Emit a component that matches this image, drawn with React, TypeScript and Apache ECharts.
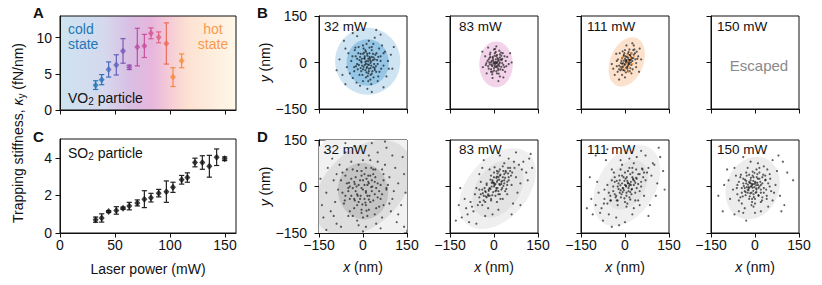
import React, { useEffect, useRef } from 'react';
import * as echarts from 'echarts';

// ---------- Data ----------
const powerTicks = [0, 50, 100, 150];
const stiffTicksA = [0, 5, 10];
const stiffTicksC = [0, 2, 4];
const posTicks = [-150, 0, 150];

// Panel A (VO2 particle)
const powerA = [32.4, 37.9, 44.2, 51.2, 57.3, 63, 70.3, 76.7, 82.7, 89.7, 96.7, 102.7, 110.6];
const stiffA = [3.44, 4.2, 5.6, 6.24, 8.17, 5.9, 8.7, 8.86, 10.6, 10.05, 9.2, 4.55, 6.8];
const errA = [0.6, 0.7, 1.05, 1.4, 1.7, 0.3, 2.6, 1.6, 0.75, 0.75, 2.85, 1.3, 0.95];
const colorsA = ['#1f78b8', '#2a73bb', '#4a6cbd', '#5f63bb', '#7a5ab8', '#9a52b3', '#b94fab', '#c9519f', '#d65893', '#e06584', '#ea6e5c', '#f38a43', '#f7913a'];

// Panel C (SO2 particle)
const powerC = [32.4, 37.9, 44.2, 51.2, 57.3, 63, 70.3, 76.7, 82.7, 89.7, 96.7, 102.7, 110.6, 115.8, 122.7, 129.4, 135.8, 142.4, 149.7];
const stiffC = [0.71, 0.8, 1.14, 1.2, 1.32, 1.43, 1.6, 1.8, 1.88, 2.12, 2.2, 2.43, 2.83, 2.95, 3.75, 3.75, 3.55, 4.03, 3.95];
const errC = [0.14, 0.22, 0.05, 0.2, 0.06, 0.2, 0.16, 0.45, 0.23, 0.2, 0.57, 0.27, 0.23, 0.25, 0.23, 0.36, 0.58, 0.44, 0.1];

const panelPowers = ['32 mW', '83 mW', '111 mW', '150 mW'];

// Position traces (nm), hand-read approximations
const tracesB1 = [
  [12, 5], [20, -8], [5, 12], [28, 3], [-3, -10], [15, 22], [35, -15], [-12, 8], [22, 30], [8, -25],
  [40, 10], [-20, -5], [18, -35], [30, 40], [-8, 28], [50, -5], [2, 45], [-25, 20], [45, -30], [10, -48],
  [-30, -28], [60, 20], [25, -55], [-15, 50], [55, 45], [-40, 5], [70, -10], [0, -60], [35, 60], [-35, -50],
  [75, 35], [-50, 30], [20, 70], [50, -60], [-55, -15], [85, 5], [-10, -75], [40, 80], [-60, 45], [80, -45],
  [15, -85], [-70, -40], [95, 25], [-20, 85], [60, 90], [-80, 10], [30, -95], [100, -20], [-65, 70], [70, -80],
  [5, 15], [25, -2], [-5, 0], [18, 12], [32, -28], [-18, -22], [10, 35], [42, 25], [-2, -40], [26, -18],
  [8, 2], [14, -14], [38, -5], [-10, 18], [22, 48], [0, -22], [48, 8], [-28, 40], [62, -20], [12, 60],
  [-45, -35], [65, 55], [28, -70], [-22, -65], [88, -20], [-60, -70], [105, 50], [-90, -25], [45, 105], [-35, 95],
  [16, -6], [24, 14], [6, -8], [30, 18], [-6, 4], [20, -20], [34, 8], [0, 28], [12, -32], [40, -18],
  [18, 4], [10, -4], [24, 8], [6, 20], [-4, 12], [28, -10], [14, 28], [20, -28], [36, 16], [-14, -8],
  [2, -14], [30, -36], [44, -12], [-20, 12], [8, 40], [-6, -28], [34, 28], [16, -44], [52, 18], [-24, -12],
  [22, 18], [12, -18], [-8, -18], [40, -24], [26, -40], [4, 32], [-16, 30], [46, 30], [30, 50], [-30, -15],
  [56, -30], [-12, -40], [0, 55], [60, 5], [-36, 20], [18, -60], [36, -48], [-26, 48], [52, -45], [70, 30]
];
const tracesB2 = [
  [5, -5], [12, 3], [-3, 8], [18, -12], [0, -18], [-10, 0], [22, 10], [8, 20], [-6, -12], [15, -25],
  [28, -2], [-15, 15], [3, 30], [-18, -20], [25, 22], [10, -35], [35, -15], [-22, 5], [-5, -30], [30, 30],
  [40, 5], [-28, -8], [18, 38], [-12, 32], [38, -30], [0, 42], [-30, 20], [20, -45], [45, 18], [-25, -35],
  [6, 10], [14, -8], [-2, -4], [9, -15], [-8, 5], [20, 0], [2, 22], [-14, -6], [25, -14], [12, 14],
  [50, -5], [-38, -15], [8, 52], [-5, -50], [55, 30], [-40, 35], [32, -48], [60, 0], [-20, 48], [15, -60],
  [4, 2], [10, -2], [-4, 14], [16, 6], [2, -10], [-10, -22], [26, 8], [8, -28], [-18, 10], [20, 26],
  [8, 0], [-2, 2], [14, 10], [4, -14], [-8, -8], [18, -4], [10, 24], [-12, 18], [22, -22], [0, -26],
  [28, 12], [-20, -12], [6, 34], [-6, -38], [32, -8], [-26, -2], [16, -36], [-14, 26], [36, 20], [24, 32],
  [2, -2], [10, -12], [-4, 18], [14, -20], [20, 16], [-16, 0], [30, -24], [-10, -30], [4, 44], [42, -12]
];
const tracesB3 = [
  [5, 0], [12, 10], [-2, -8], [15, -5], [0, 12], [-8, -15], [20, 18], [8, -20], [-12, 5], [25, 5],
  [10, 28], [-15, -25], [30, 25], [-5, 20], [18, -18], [-20, -10], [3, -32], [28, 40], [-25, -30], [35, 10],
  [15, 42], [-10, -40], [40, 35], [-28, 5], [22, -35], [-18, 30], [45, 20], [0, -48], [30, 55], [-35, -40],
  [8, 4], [2, -3], [14, 8], [-4, 6], [10, -10], [20, 0], [6, 18], [-10, -4], [16, 24], [-6, -24],
  [50, 45], [-40, -20], [38, -15], [-30, 28], [55, 10], [-20, -55], [25, 62], [-45, -5], [48, -30], [5, 55],
  [4, 8], [12, -2], [-6, -2], [18, 8], [2, 20], [-14, -14], [24, 14], [10, -28], [-2, 30], [22, 30],
  [6, 6], [14, 2], [0, -6], [10, 16], [-6, -12], [18, 24], [-14, -2], [22, -8], [4, -16], [28, 14],
  [-10, 14], [12, 34], [-20, -22], [34, 30], [-2, -26], [26, -22], [-24, 10], [38, -2], [16, -28], [-8, 36],
  [2, 4], [12, -6], [8, -14], [-12, -20], [20, 10], [-4, 24], [32, 42], [-28, -12], [42, 12], [0, 40]
];
const tracesB3hot = [
  [10, 5], [-5, -10], [18, 15], [0, -20], [25, -5], [-12, 10], [8, 25], [15, -15], [-18, -18], [30, 20],
  [4, -4], [20, 30], [-8, 18], [12, -30]
];
const tracesD1 = [
  [0, -10], [15, 5], [-20, -25], [30, -15], [-10, 20], [25, 35], [-35, -5], [5, -40], [40, 15], [-25, 30],
  [10, -60], [-45, -40], [50, -35], [-5, 50], [35, 55], [-55, 10], [60, 5], [20, -75], [-30, -70], [-60, -30],
  [70, 40], [-15, 70], [55, -65], [-70, 45], [80, -10], [0, 85], [-85, -10], [40, -90], [-50, -95], [90, 30],
  [-40, 80], [75, 70], [-95, -50], [100, -40], [20, 100], [-80, 70], [65, -100], [-100, 20], [110, 60], [-20, -110],
  [-110, -80], [120, 10], [50, 110], [-60, 110], [95, -80], [-125, -20], [130, -60], [-90, -120], [10, -130], [80, 125],
  [-120, 60], [140, 40], [-30, 130], [115, -115], [-140, -60], [60, -135], [-75, -130], [135, 95], [-130, 110], [30, 140],
  [5, 5], [-8, -30], [22, -30], [-28, 8], [12, 25], [-15, -50], [35, -45], [-40, 25], [45, -5], [-5, -75],
  [28, 60], [-50, -15], [65, -25], [-20, 50], [15, -95], [-65, -55], [85, 5], [-35, -95], [50, 80], [-75, 20],
  [105, -15], [-100, -95], [70, -60], [-55, 55], [25, 85], [-90, 40], [90, -55], [-15, -125], [45, -120], [120, -90],
  [-135, -100], [145, -20], [-105, 90], [100, 100], [-145, 25], [0, -145], [-60, 140], [140, -130], [75, 145], [-125, -140],
  [10, -20], [-22, 0], [18, 15], [-5, 35], [32, 0], [-30, -40], [8, -52], [42, 30], [-45, 0], [20, -42],
  [-5, -5], [10, -15], [-15, 5], [20, 10], [0, 20], [-25, -15], [15, -30], [-10, -40], [30, 20], [-30, 15],
  [40, -25], [5, 40], [-40, -30], [25, -50], [-20, -60], [50, 10], [-50, -5], [35, 40], [-5, -85], [60, -40],
  [-60, 35], [10, 60], [-35, 55], [70, 20], [-70, -20], [45, -70], [-45, -80], [80, -5], [0, -100], [65, 55],
  [-18, -30], [28, -2], [-2, -58], [18, 35], [-48, 12], [55, -15], [-28, -45], [42, 55], [-62, -45], [12, -78]
];
const tracesD2 = [
  [0, 0], [10, 15], [-12, -8], [20, 5], [-5, 20], [15, -15], [-20, -25], [30, 30], [5, -30], [-25, 5],
  [35, 10], [-10, 35], [25, -10], [-35, -30], [40, 45], [0, 45], [-40, -10], [50, 20], [20, 55], [-30, -50],
  [55, 50], [-50, -35], [10, -50], [-15, 55], [60, 5], [-55, -60], [45, -25], [-20, -70], [70, 60], [35, 75],
  [-65, -25], [75, 30], [-45, 15], [15, -75], [-70, -80], [85, 70], [-80, -50], [50, 90], [-30, -95], [90, 10],
  [-90, -90], [100, 80], [-100, -40], [65, -55], [-40, 60], [110, 45], [-110, -100], [20, 100], [-60, -120], [120, 90],
  [5, 8], [-8, 12], [18, 22], [-18, -14], [12, -5], [28, 18], [-28, -18], [8, 28], [-3, -18], [38, 28],
  [22, 38], [-38, -22], [45, 5], [-10, -45], [32, 50], [-48, -50], [58, 35], [2, 62], [-25, -35], [42, -8],
  [-60, -5], [68, 80], [-75, -65], [80, -20], [-5, -90], [95, 55], [-95, -70], [30, -40], [-50, 40], [115, 20],
  [-120, -60], [75, 110], [-85, -115], [125, 105], [-35, 85], [90, -60], [-115, -5], [60, -90], [-130, -110], [130, 60],
  [15, 30], [25, 8], [-15, -30], [8, -12], [35, 40], [-2, 10], [20, -25], [48, 60], [-32, -5], [12, 42],
  [2, 5], [12, 20], [-8, 0], [25, 15], [5, -15], [-15, -5], [20, 35], [-20, -30], [35, 20], [0, 30],
  [15, -25], [-30, -15], [40, 50], [-10, -40], [28, -5], [-35, -45], [50, 30], [10, 50], [-25, 10], [55, 60],
  [-45, -25], [30, 65], [-5, 15], [18, 8], [8, -5], [-12, 22], [45, 15], [-40, -60], [62, 45], [22, -40],
  [0, 12], [10, 32], [-18, -10], [32, 2], [-28, -32], [48, 42], [16, 48], [-6, -28], [38, -15], [-50, -10]
];
const tracesD3 = [
  [0, 5], [12, -5], [-10, 10], [20, 15], [-15, -12], [5, -20], [25, 30], [-25, 0], [30, 5], [-5, 30],
  [15, -35], [-30, -30], [40, 25], [-20, 35], [35, -20], [-40, -15], [10, 50], [50, 40], [-45, 20], [0, -50],
  [55, 0], [-50, -45], [25, 60], [-25, -60], [60, 55], [-60, 5], [45, -45], [-10, 70], [70, 20], [-70, -40],
  [30, -70], [-45, 55], [80, 60], [-80, -70], [65, -30], [15, 90], [-55, -90], [90, 35], [-90, -20], [40, 95],
  [-30, -100], [100, 70], [-100, -60], [85, -60], [-65, 85], [110, 10], [-110, -90], [55, 115], [-20, -125], [120, 95],
  [4, 0], [-6, -6], [16, 8], [-16, 4], [8, 18], [22, -10], [-12, -25], [32, 18], [-2, -38], [18, 40],
  [-35, 15], [45, 8], [-28, -45], [38, 55], [-55, -20], [62, 30], [5, -65], [-38, 45], [75, 45], [-72, -55],
  [50, -60], [-15, 85], [95, 75], [-85, -85], [25, -90], [-95, 15], [105, -30], [70, 100], [-75, -110], [-115, -40],
  [-100, 100], [130, 50], [0, -115], [115, 125], [-120, 30], [80, -95], [-45, -130], [135, -10], [-60, 120], [-130, -70],
  [10, 12], [-8, -18], [28, 22], [-22, -8], [2, 25], [18, -18], [-18, 20], [40, -5], [-32, -35], [26, 45],
  [3, 3], [10, 10], [-8, -5], [20, 5], [-2, 18], [12, -15], [-18, -20], [28, 25], [-22, 10], [5, -30],
  [35, 12], [-10, 35], [22, -25], [-35, -25], [45, 40], [0, 45], [-40, 0], [15, 60], [-25, -45], [55, 15],
  [-50, -30], [35, -45], [-15, 55], [65, 45], [-60, -55], [8, -55], [30, 75], [-35, 30], [50, -15], [-70, -10],
  [14, 2], [-4, -12], [6, 30], [-14, -35], [38, 28], [-28, 18], [24, -8], [-48, -45], [58, 58], [18, -42]
];
const tracesD4 = [
  [-10, 5], [0, 15], [-20, -5], [5, -10], [-15, 20], [10, 25], [-25, -20], [15, 0], [-5, -25], [-30, 10],
  [20, -20], [-8, 35], [25, 30], [-35, -15], [0, -40], [-40, 25], [30, -5], [-20, -40], [15, 45], [-45, -5],
  [35, 20], [-10, -50], [-30, 45], [40, -30], [-50, -35], [5, 55], [45, 10], [-55, 15], [20, -50], [-25, 60],
  [50, 40], [-60, -25], [-5, -65], [55, -15], [-45, -55], [30, 65], [-65, 35], [60, -45], [-35, -70], [10, 75],
  [70, 5], [-75, -10], [-15, 80], [45, -65], [-70, 60], [75, 50], [-55, -80], [20, -80], [-90, 20], [85, -30],
  [-12, 0], [-2, 8], [-18, 12], [-6, -14], [8, 12], [-22, -12], [2, -20], [-28, -2], [12, -5], [-14, 28],
  [18, 15], [-32, -28], [25, -35], [-38, 2], [-8, 48], [38, -10], [-48, 38], [28, 38], [-12, -60], [52, 25],
  [-62, -5], [42, 55], [-40, -85], [65, -20], [-85, -40], [0, -85], [95, 80], [130, 20], [-125, -30], [100, -60],
  [-95, 55], [60, 85], [-70, -90], [110, 45], [-110, -80], [-40, 95], [-30, -110], [90, -80], [-105, 5], [80, 100],
  [-8, -4], [4, 4], [-16, -22], [-24, 6], [6, 30], [-4, -34], [20, 5], [-34, 22], [12, -28], [-20, 38],
  [-8, 8], [-2, -2], [-15, 0], [2, 12], [-20, 15], [5, -18], [-25, -10], [10, 5], [-12, -20], [-30, 18],
  [15, 25], [-5, 30], [-35, -5], [20, -10], [-18, -32], [8, 40], [-40, 10], [25, 10], [-28, 35], [30, -20],
  [-10, -40], [-45, -20], [35, 35], [-50, 30], [0, -55], [40, -40], [-55, -45], [15, 60], [-60, 5], [50, 0],
  [-6, 18], [-22, -2], [4, -6], [-14, 10], [-32, -18], [12, -30], [-2, 44], [24, -45], [-42, -32], [36, 22]
];

// Density contour ellipses: [cx, cy, rx, ry, angleDeg] with fill colours
const ellB1 = [[16, 4, 111, 108, 0], [16, 0, 72, 75, 0]];
const ellB1Colors = ['#cfe4f2', '#95c6e5'];
const ellB2 = [[7, -6, 57, 74, 0]];
const ellB2Colors = ['#f3d3ea'];
const ellB3 = [[6, 2, 56, 84, -25]];
const ellB3Colors = ['#fce2cc'];
const ellD1 = [[0, -5, 260, 200, 40], [0, -5, 190, 125, 40], [0, -15, 85, 92, 20]];
const ellD1Colors = ['#f1f1f1', '#dedede', '#c4c4c4'];
const ellD2 = [[12, -7, 155, 100, 45], [14, -8, 105, 72, 50]];
const ellD2Colors = ['#efefef', '#e3e3e3'];
const ellD3 = [[6, 3, 145, 95, 55], [8, 5, 88, 60, 55]];
const ellD3Colors = ['#efefef', '#e4e4e4'];
const ellD4 = [[-8, -5, 105, 88, 60]];
const ellD4Colors = ['#ececec'];

// ---------- Layout ----------
const FONT = 'Liberation Sans';
const colLefts = [319, 450, 581, 711];
const PW = 88;
const PH = 93;

const minusFmt = (v: number) => (v < 0 ? '\u2212' + Math.abs(v) : String(v));

function ellipseSeries(idx: number, data: number[][], colors: string[]) {
  return {
    type: 'custom',
    xAxisIndex: idx,
    yAxisIndex: idx,
    clip: true,
    silent: true,
    z: 1,
    data,
    renderItem: (params: any, api: any) => {
      const cx = api.value(0), cy = api.value(1), rx = api.value(2), ry = api.value(3);
      const a = (api.value(4) * Math.PI) / 180;
      const pts: number[][] = [];
      const n = 90;
      for (let i = 0; i < n; i++) {
        const t = (i / n) * Math.PI * 2;
        const ex = rx * Math.cos(t), ey = ry * Math.sin(t);
        pts.push(api.coord([cx + ex * Math.cos(a) - ey * Math.sin(a), cy + ex * Math.sin(a) + ey * Math.cos(a)]));
      }
      return { type: 'polygon', shape: { points: pts }, style: { fill: colors[params.dataIndex], stroke: 'none' } };
    },
  };
}

function dotSeries(idx: number, data: number[][], color = 'rgba(10,10,10,0.8)') {
  return {
    type: 'scatter',
    xAxisIndex: idx,
    yAxisIndex: idx,
    silent: true,
    z: 3,
    symbol: 'circle',
    symbolSize: 2.2,
    itemStyle: { color },
    data,
  };
}

function errSeries(idx: number, xs: number[], ys: number[], es: number[], colors: string[]) {
  return {
    type: 'custom',
    xAxisIndex: idx,
    yAxisIndex: idx,
    silent: true,
    z: 3,
    data: xs.map((x, i) => [x, ys[i], es[i]]),
    renderItem: (params: any, api: any) => {
      const x = api.value(0), y = api.value(1), e = api.value(2);
      const top = api.coord([x, y + e]);
      const bot = api.coord([x, y - e]);
      const c = colors[params.dataIndex % colors.length];
      const hw = 2.6;
      const st = { stroke: c, lineWidth: 1.2 };
      return {
        type: 'group',
        children: [
          { type: 'line', shape: { x1: top[0], y1: top[1], x2: bot[0], y2: bot[1] }, style: st },
          { type: 'line', shape: { x1: top[0] - hw, y1: top[1], x2: top[0] + hw, y2: top[1] }, style: st },
          { type: 'line', shape: { x1: bot[0] - hw, y1: bot[1], x2: bot[0] + hw, y2: bot[1] }, style: st },
        ],
      };
    },
  };
}

function markerSeries(idx: number, xs: number[], ys: number[], colors: string[]) {
  return {
    type: 'scatter',
    xAxisIndex: idx,
    yAxisIndex: idx,
    silent: true,
    z: 4,
    symbol: 'diamond',
    symbolSize: [6, 7],
    data: xs.map((x, i) => ({ value: [x, ys[i]], itemStyle: { color: colors[i % colors.length] } })),
  };
}

const axisLineStyle = { show: true, onZero: false, lineStyle: { color: '#111', width: 1 } };
const tickStyle = (vals: number[]) => ({ show: true, length: 4.5, inside: false, lineStyle: { color: '#111' }, customValues: vals });
const labelStyle = (vals: number[] | null, show: boolean, margin: number) => ({
  show,
  fontSize: 14,
  fontFamily: FONT,
  color: '#111',
  margin,
  formatter: (v: number) => minusFmt(v),
  ...(vals ? { customValues: vals } : {}),
});

function buildOption() {
  const grids: any[] = [];
  const xAxes: any[] = [];
  const yAxes: any[] = [];
  const series: any[] = [];

  const gridBase = { show: true, borderColor: '#111', borderWidth: 1, containLabel: false };

  // 0: panel A
  grids.push({
    ...gridBase,
    left: 60, top: 16, width: 176, height: 94,
    backgroundColor: new echarts.graphic.LinearGradient(0, 0, 1, 0, [
      { offset: 0, color: '#cde3f0' },
      { offset: 0.25, color: '#d5d9ee' },
      { offset: 0.4, color: '#d9bee3' },
      { offset: 0.52, color: '#e7b6dd' },
      { offset: 0.63, color: '#f6cdd6' },
      { offset: 0.73, color: '#fde2d2' },
      { offset: 1, color: '#fff8e8' },
    ]),
  });
  // 1: panel C
  grids.push({ ...gridBase, left: 60, top: 139, width: 176, height: 94 });
  // 2-5: B, 6-9: D
  colLefts.forEach((l) => grids.push({ ...gridBase, left: l, top: 16, width: PW, height: PH }));
  colLefts.forEach((l) => grids.push({ ...gridBase, left: l, top: 140, width: PW, height: PH }));

  // Axes A, C
  xAxes.push({
    gridIndex: 0, type: 'value', min: 0, max: 160,
    axisLine: axisLineStyle, axisTick: tickStyle(powerTicks), axisLabel: { show: false }, splitLine: { show: false },
  });
  yAxes.push({
    gridIndex: 0, type: 'value', min: 0, max: 13,
    axisLine: axisLineStyle, axisTick: tickStyle(stiffTicksA), axisLabel: labelStyle(stiffTicksA, true, 8), splitLine: { show: false },
  });
  xAxes.push({
    gridIndex: 1, type: 'value', min: 0, max: 160,
    axisLine: axisLineStyle, axisTick: tickStyle(powerTicks), axisLabel: labelStyle(powerTicks, true, 5), splitLine: { show: false },
    name: 'Laser power (mW)', nameLocation: 'middle', nameGap: 29,
    nameTextStyle: { fontSize: 14, fontFamily: FONT, color: '#111' },
  });
  yAxes.push({
    gridIndex: 1, type: 'value', min: 0, max: 5,
    axisLine: axisLineStyle, axisTick: tickStyle(stiffTicksC), axisLabel: labelStyle(stiffTicksC, true, 8), splitLine: { show: false },
  });

  // Scatter axes
  for (let r = 0; r < 2; r++) {
    for (let c = 0; c < 4; c++) {
      const gi = 2 + r * 4 + c;
      const xa: any = {
        gridIndex: gi, type: 'value', min: -150, max: 150, interval: 150,
        axisLine: axisLineStyle, axisTick: tickStyle(posTicks), axisLabel: labelStyle(posTicks, r === 1, 5), splitLine: { show: false },
      };
      if (r === 1) {
        xa.name = '{i|x} (nm)';
        xa.nameLocation = 'middle';
        xa.nameGap = 27;
        xa.nameTextStyle = { fontSize: 14, fontFamily: FONT, color: '#111', rich: { i: { fontStyle: 'italic', fontSize: 14, fontFamily: FONT, color: '#111' } } };
      }
      xAxes.push(xa);
      const ya: any = {
        gridIndex: gi, type: 'value', min: -150, max: 150, interval: 150,
        axisLine: axisLineStyle, axisTick: tickStyle(posTicks), axisLabel: labelStyle(posTicks, c === 0, 12), splitLine: { show: false },
      };
      if (c === 0) {
        ya.name = '{i|y} (nm)';
        ya.nameLocation = 'middle';
        ya.nameGap = 33;
        ya.nameTextStyle = { fontSize: 14, fontFamily: FONT, color: '#111', rich: { i: { fontStyle: 'italic', fontSize: 14, fontFamily: FONT, color: '#111' } } };
      }
      yAxes.push(ya);
    }
  }

  // Series: A
  series.push(errSeries(0, powerA, stiffA, errA, colorsA));
  series.push(markerSeries(0, powerA, stiffA, colorsA));
  // C
  series.push(errSeries(1, powerC, stiffC, errC, ['#222']));
  series.push(markerSeries(1, powerC, stiffC, ['#111']));

  // B row
  series.push(ellipseSeries(2, ellB1, ellB1Colors));
  series.push(dotSeries(2, tracesB1));
  series.push(ellipseSeries(3, ellB2, ellB2Colors));
  series.push(dotSeries(3, tracesB2));
  series.push(ellipseSeries(4, ellB3, ellB3Colors));
  series.push(dotSeries(4, tracesB3));
  series.push(dotSeries(4, tracesB3hot, 'rgba(255,140,40,0.9)'));
  // D row
  series.push(ellipseSeries(6, ellD1, ellD1Colors));
  series.push(dotSeries(6, tracesD1));
  series.push(ellipseSeries(7, ellD2, ellD2Colors));
  series.push(dotSeries(7, tracesD2));
  series.push(ellipseSeries(8, ellD3, ellD3Colors));
  series.push(dotSeries(8, tracesD3));
  series.push(ellipseSeries(9, ellD4, ellD4Colors));
  series.push(dotSeries(9, tracesD4));

  const txt = (x: number, y: number, text: string, extra: any = {}) => ({
    type: 'text',
    x,
    y,
    z: 100,
    silent: true,
    style: { text, fontSize: 14, fontFamily: FONT, fill: '#111', align: 'left', verticalAlign: 'middle', ...extra },
  });
  const subRich = {
    sub: { fontSize: 10, fontFamily: FONT, lineHeight: 8, verticalAlign: 'bottom', fill: '#111' },
    i: { fontSize: 14, fontFamily: FONT, fontStyle: 'italic', lineHeight: 16, fill: '#111' },
  };

  const graphics: any[] = [
    txt(33, 12, 'A', { fontWeight: 'bold', fontSize: 15 }),
    txt(257, 12, 'B', { fontWeight: 'bold', fontSize: 15 }),
    txt(33, 136, 'C', { fontWeight: 'bold', fontSize: 15 }),
    txt(257, 136, 'D', { fontWeight: 'bold', fontSize: 15 }),
    {
      type: 'text', x: 18, y: 133, rotation: Math.PI / 2, z: 100, silent: true,
      style: {
        text: 'Trapping stiffness, {i|κ}{sub|y} (fN/nm)',
        fontSize: 14, fontFamily: FONT, fill: '#111', align: 'center', verticalAlign: 'middle', lineHeight: 16,
        rich: subRich,
      },
    },
    txt(68, 36, 'cold\nstate', { fill: '#1f77b4', lineHeight: 15 }),
    txt(213, 36, 'hot\nstate', { fill: '#f99a4c', lineHeight: 15, align: 'center' }),
    txt(68, 98, 'VO{sub|2} particle', { lineHeight: 16, rich: subRich }),
    txt(68, 153, 'SO{sub|2} particle', { lineHeight: 16, rich: subRich }),
    txt(759, 65, 'Escaped', { fill: '#8a8a8a', fontSize: 15, align: 'center' }),
  ];
  const labOff = [5, 9, 6, 6];
  colLefts.forEach((l, i) => {
    graphics.push(txt(l + labOff[i], 26, panelPowers[i], { fontSize: 13.5 }));
    graphics.push(txt(l + labOff[i], 149, panelPowers[i], { fontSize: 13.5 }));
  });

  return {
    animation: false,
    backgroundColor: '#ffffff',
    textStyle: { fontFamily: FONT },
    grid: grids,
    xAxis: xAxes,
    yAxis: yAxes,
    series,
    graphic: graphics,
  };
}

export default function App() {
  const ref = useRef<HTMLDivElement>(null);
  useEffect(() => {
    if (!ref.current) return;
    const chart = echarts.init(ref.current, null, { renderer: 'svg' });
    chart.setOption(buildOption() as any);
    return () => chart.dispose();
  }, []);
  return (
    <div
      ref={ref}
      style={{ position: 'absolute', left: 0, top: 0, width: 822, height: 285, background: '#fff' }}
    />
  );
}
